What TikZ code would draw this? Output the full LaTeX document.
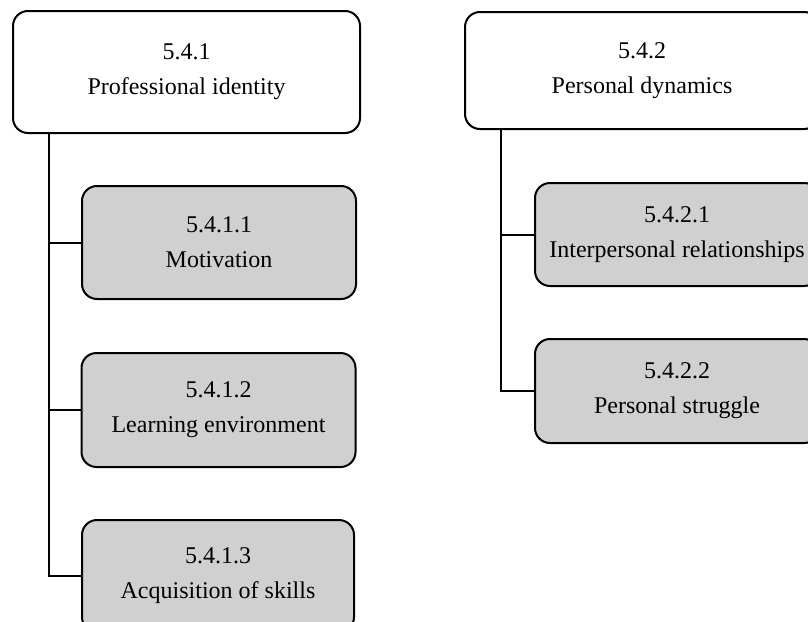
\documentclass[tikz,border=0pt]{standalone}
\usepackage{fontspec}
\setmainfont{Liberation Serif}
\definecolor{subfill}{RGB}{208,208,208}
\begin{document}
\begin{tikzpicture}[x=0.5pt,y=-0.5pt,
  box/.style={draw=black, line width=1pt, rounded corners=7.5pt, inner sep=0pt,
    align=center, font=\fontsize{12}{17.5}\selectfont},
  parent/.style={box, fill=white},
  child/.style={box, fill=subfill},
  link/.style={draw=black, line width=1pt}]
\useasboundingbox (0,0) rectangle (808,621);
\clip (0,0) rectangle (808,621);

% first theme and its sub-themes
\node[parent, minimum width=173.5pt, minimum height=61pt] (A) at (186.5,72) {5.4.1\\Professional identity};
\node[child, minimum width=137pt, minimum height=56.5pt] (A1) at (219,242.5) {5.4.1.1\\Motivation};
\node[child, minimum width=137pt, minimum height=57pt] (A2) at (218.5,410) {5.4.1.2\\Learning environment};
\node[child, minimum width=136pt, minimum height=56pt] (A3) at (218,576) {5.4.1.3\\Acquisition of skills};

% second theme and its sub-themes
\node[parent, minimum width=177pt, minimum height=58.5pt] (B) at (642,70.5) {5.4.2\\Personal dynamics};
\node[child, minimum width=142pt, minimum height=51.5pt] (B1) at (677,234.5) {5.4.2.1\\Interpersonal relationships};
\node[child, minimum width=142pt, minimum height=52pt] (B2) at (677,391) {5.4.2.2\\Personal struggle};

% tree spines
\coordinate (sa) at (49,0);
\coordinate (sb) at (501,0);
\draw[link] (sa |- A.south) |- (A3.west);
\draw[link] (A1.west) -- (A1.west -| sa);
\draw[link] (A2.west) -- (A2.west -| sa);
\draw[link] (sb |- B.south) |- (B2.west);
\draw[link] (B1.west) -- (B1.west -| sb);
\end{tikzpicture}
\end{document}
